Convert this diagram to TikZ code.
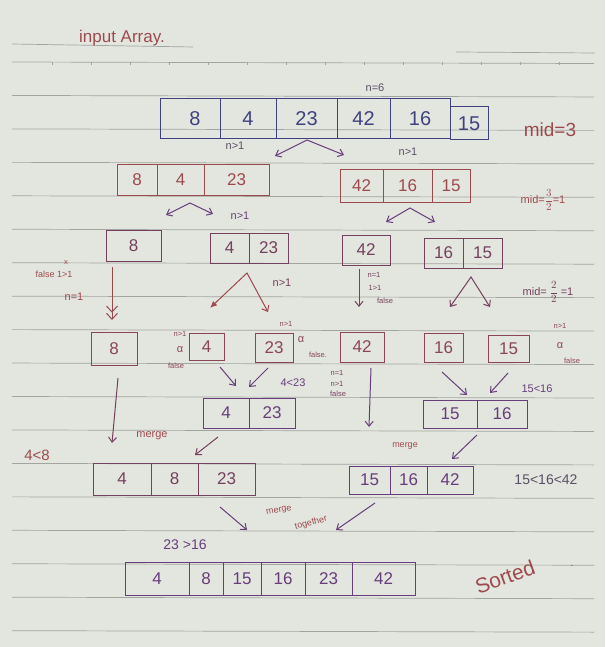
\documentclass[tikz,border=0pt]{standalone}
\usepackage{fontspec}
\setmainfont{Liberation Sans}
\usetikzlibrary{arrows.meta}

\definecolor{paper}{HTML}{E3E6DF}
\definecolor{rulegray}{HTML}{A2A49F}
\definecolor{inkblue}{HTML}{40427F}
\definecolor{inkred}{HTML}{9C4A4C}
\definecolor{inkbrown}{HTML}{8A4652}
\definecolor{inkplum}{HTML}{74405F}
\definecolor{inkpurple}{HTML}{673D7B}
\definecolor{inkgrey}{HTML}{5A4F66}

\begin{document}
\begin{tikzpicture}[x=1pt, y=-1pt,
    rule/.style={rulegray, line width=0.7pt},
    cell/.style={draw, line width=1pt, inner sep=0pt, font=\fontsize{17}{19}\selectfont},
    note/.style={inner sep=1pt, font=\fontsize{11}{13}\selectfont},
    tiny/.style={inner sep=0pt, font=\fontsize{7.5}{8}\selectfont},
    ink/.style={line width=1pt, -{Straight Barb[length=5pt,width=8pt]}},
    fork/.style={line width=1pt, {Straight Barb[length=5pt,width=8pt]}-{Straight Barb[length=5pt,width=8pt]}}]
    \useasboundingbox (0,0) rectangle (605,647);
    \fill[paper] (0,0) rectangle (605,647);

    % Ruled paper
    \foreach \k in {0,...,17}
      \draw[rule] (12,{62+33.45*\k}) -- (594,{63.5+33.45*\k});
    \foreach \x in {52,91,...,590}
      \draw[rule] (\x,62) -- (\x,65.5);
    \draw[rule] (12,44) -- (193,47);
    \draw[rule] (456,52) -- (595,53);

    \node[note, inkred, font=\fontsize{17}{19}\selectfont] (title) at (122,38) {input Array.};
    \node[note, inkgrey] (n6) at (375,88) {n=6};

    % Input array
    \node[cell, inkblue, minimum width=60pt, minimum height=40pt] (r1a) at (190,119) {\fontsize{20}{22}\selectfont\hspace{10pt}8};
    \node[cell, inkblue, minimum width=56pt, minimum height=40pt] (r1b) at (248,119) {\fontsize{20}{22}\selectfont 4};
    \node[cell, inkblue, minimum width=61pt, minimum height=40pt] (r1c) at (306.5,119) {\fontsize{20}{22}\selectfont 23};
    \node[cell, inkblue, minimum width=53pt, minimum height=40pt] (r1d) at (363.5,119) {\fontsize{20}{22}\selectfont 42};
    \node[cell, inkblue, minimum width=60pt, minimum height=40pt] (r1e) at (420,119) {\fontsize{20}{22}\selectfont 16};
    \node[cell, inkblue, minimum width=38pt, minimum height=33pt] (r1f) at (469,123.5) {\fontsize{20}{22}\selectfont 15};
    \node[note, inkred, font=\fontsize{19}{21}\selectfont] (mid1) at (550,130) {mid=3};
    \node[note, inkgrey] (g1) at (235,146) {n>1};
    \node[note, inkgrey] (g2) at (408,152) {n>1};
    \coordinate (s1l) at (275,156);
    \coordinate (s1t) at (307,140);
    \coordinate (s1r) at (344,155);
    \draw[fork, inkpurple] (s1l) -- (s1t) -- (s1r);

    % First split
    \node[cell, inkred, minimum width=40pt, minimum height=30pt] (r2a) at (137,180) {8};
    \node[cell, inkred, minimum width=47pt, minimum height=30pt] (r2b) at (180.5,180) {4};
    \node[cell, inkred, minimum width=65pt, minimum height=30pt] (r2c) at (236.5,180) {23};
    \node[cell, inkred, minimum width=43pt, minimum height=32pt] (r2d) at (361.5,186) {42};
    \node[cell, inkred, minimum width=49pt, minimum height=32pt] (r2e) at (407.5,186) {16};
    \node[cell, inkred, minimum width=38pt, minimum height=32pt] (r2f) at (451,186) {15};
    \node[note, inkred] (mid2) at (543,200) {mid=$\displaystyle\frac{3}{2}$=1};
    \coordinate (s2l) at (166,215);
    \coordinate (s2t) at (190,203);
    \coordinate (s2r) at (213,214);
    \draw[fork, inkpurple] (s2l) -- (s2t) -- (s2r);
    \node[note, inkpurple] (g3) at (240,216) {n>1};
    \coordinate (s3l) at (386,222);
    \coordinate (s3t) at (410,208);
    \coordinate (s3r) at (435,222);
    \draw[fork, inkpurple] (s3l) -- (s3t) -- (s3r);

    % Second split
    \node[cell, inkplum, minimum width=55pt, minimum height=31pt] (r3a) at (133.5,245.5) {8};
    \node[cell, inkplum, minimum width=39pt, minimum height=30pt] (r3b) at (229.5,248) {4};
    \node[cell, inkplum, minimum width=39pt, minimum height=30pt] (r3c) at (268.5,248) {23};
    \node[cell, inkplum, minimum width=48pt, minimum height=30pt] (r3d) at (366,250) {42};
    \node[cell, inkplum, minimum width=39pt, minimum height=30pt] (r3e) at (443.5,253) {16};
    \node[cell, inkplum, minimum width=39pt, minimum height=30pt] (r3f) at (482.5,253) {15};
    \node[note, inkred, font=\fontsize{9}{10}\selectfont] (f1) at (54,274) {false 1>1};
    \node[tiny, inkred] (x1) at (66,263) {x};
    \node[note, inkred] (e1) at (74,297) {n=1};
    \coordinate (d1a) at (112,267);
    \coordinate (d1b) at (112,320);
    \draw[inkred, line width=1pt, -{Straight Barb[length=6pt,width=11pt] Straight Barb[length=6pt,width=11pt]}] (d1a) -- (d1b);
    \coordinate (s4l) at (210,308);
    \coordinate (s4t) at (247,273);
    \coordinate (s4r) at (268,312);
    \draw[inkred, line width=1pt, {Latex[length=7pt,width=6pt]}-{Straight Barb[length=5pt,width=8pt]}] (s4l) -- (s4t) -- (s4r);
    \node[note, inkplum] (g4) at (282,283) {n>1};
    \coordinate (d2a) at (359,269);
    \coordinate (d2b) at (359,307);
    \draw[ink, inkplum] (d2a) -- (d2b);
    \node[tiny, inkplum] (h1) at (374,275) {n=1};
    \node[tiny, inkplum] (h2) at (375,288) {1>1};
    \node[tiny, inkplum] (h3) at (385,301) {false};
    \coordinate (s5l) at (450,307);
    \coordinate (s5t) at (471,277);
    \coordinate (s5r) at (490,307);
    \draw[fork, inkplum] (s5l) -- (s5t) -- (s5r);
    \node[note, inkplum] (mid3) at (548,292) {mid= $\displaystyle\frac{2}{2}$ =1};

    % Single elements
    \node[cell, inkbrown, minimum width=46pt, minimum height=33pt] (r4a) at (114,348.5) {8};
    \node[cell, inkbrown, minimum width=35pt, minimum height=27pt] (r4b) at (206.5,346.5) {4};
    \node[cell, inkbrown, minimum width=38pt, minimum height=29pt] (r4c) at (274,347.5) {23};
    \node[cell, inkbrown, minimum width=44pt, minimum height=30pt] (r4d) at (362,347) {42};
    \node[cell, inkbrown, minimum width=39pt, minimum height=29pt] (r4e) at (443.5,347.5) {16};
    \node[cell, inkbrown, minimum width=41pt, minimum height=27pt] (r4f) at (508.5,348.5) {15};
    \node[tiny, inkbrown] (k1) at (180,334) {n>1};
    \node[tiny, inkbrown, font=\fontsize{11}{12}\selectfont] (k2) at (180,350) {α};
    \node[tiny, inkbrown] (k3) at (176,366) {false};
    \node[tiny, inkbrown] (k4) at (286,324) {n>1};
    \node[tiny, inkbrown, font=\fontsize{11}{12}\selectfont] (k5) at (301,340) {α};
    \node[tiny, inkbrown] (k6) at (318,355) {false.};
    \node[tiny, inkbrown] (k7) at (560,326) {n>1};
    \node[tiny, inkbrown, font=\fontsize{11}{12}\selectfont] (k8) at (560,346) {α};
    \node[tiny, inkbrown] (k9) at (572,361) {false};

    % Merging pairs
    \coordinate (d3a) at (118,378);
    \coordinate (d3b) at (112,443);
    \draw[ink, inkplum] (d3a) -- (d3b);
    \node[note, inkred] (mg1) at (152,436) {merge};
    \coordinate (m1a) at (220,367);
    \coordinate (m1b) at (236,386);
    \coordinate (m2a) at (268,368);
    \coordinate (m2b) at (249,387);
    \draw[ink, inkpurple] (m1a) -- (m1b);
    \draw[ink, inkpurple] (m2a) -- (m2b);
    \node[note, inkpurple] (lt1) at (293,383) {4<23};
    \node[tiny, inkplum] (h4) at (337,373) {n=1};
    \node[tiny, inkplum] (h5) at (337,384) {n>1};
    \node[tiny, inkplum] (h6) at (338,394) {false};
    \coordinate (d4a) at (371,368);
    \coordinate (d4b) at (369,427);
    \draw[ink, inkpurple] (d4a) -- (d4b);
    \coordinate (m3a) at (442,372);
    \coordinate (m3b) at (467,395);
    \coordinate (m4a) at (508,373);
    \coordinate (m4b) at (490,393);
    \draw[ink, inkpurple] (m3a) -- (m3b);
    \draw[ink, inkpurple] (m4a) -- (m4b);
    \node[note, inkpurple] (lt2) at (537,389) {15<16};

    \node[cell, inkpurple, minimum width=46pt, minimum height=30pt] (r5a) at (226,413) {4};
    \node[cell, inkpurple, minimum width=46pt, minimum height=30pt] (r5b) at (272,413) {23};
    \node[cell, inkpurple, minimum width=54pt, minimum height=28pt] (r5c) at (450,414) {15};
    \node[cell, inkpurple, minimum width=50pt, minimum height=28pt] (r5d) at (502,414) {16};

    % Merging halves
    \coordinate (m5a) at (218,437);
    \coordinate (m5b) at (195,455);
    \draw[ink, inkplum] (m5a) -- (m5b);
    \coordinate (m6a) at (477,435);
    \coordinate (m6b) at (452,459);
    \draw[ink, inkpurple] (m6a) -- (m6b);
    \node[note, inkred, font=\fontsize{9}{10}\selectfont] (mg2) at (405,446) {merge};
    \node[note, inkred, font=\fontsize{15}{17}\selectfont] (lt3) at (37,455) {4<8};

    \node[cell, inkplum, minimum width=58pt, minimum height=32pt] (r6a) at (122,479) {4};
    \node[cell, inkplum, minimum width=47pt, minimum height=32pt] (r6b) at (174.5,479) {8};
    \node[cell, inkplum, minimum width=57pt, minimum height=32pt] (r6c) at (226.5,479) {23};
    \node[cell, inkpurple, minimum width=41pt, minimum height=28pt] (r6d) at (369.5,480) {15};
    \node[cell, inkpurple, minimum width=37pt, minimum height=28pt] (r6e) at (408.5,480) {16};
    \node[cell, inkpurple, minimum width=46pt, minimum height=28pt] (r6f) at (450,480) {42};
    \node[note, inkgrey, font=\fontsize{14}{16}\selectfont] (lt4) at (546,480) {15<16<42};

    % Final merge
    \coordinate (m7a) at (220,507);
    \coordinate (m7b) at (247,530);
    \coordinate (m8a) at (375,503);
    \coordinate (m8b) at (336,530);
    \draw[ink, inkpurple] (m7a) -- (m7b);
    \draw[ink, inkpurple] (m8a) -- (m8b);
    \node[note, inkred, font=\fontsize{9}{10}\selectfont, rotate=10] (mg3) at (279,511) {merge};
    \node[note, inkred, font=\fontsize{9}{10}\selectfont, rotate=15] (mg4) at (311,523) {together};
    \node[note, inkpurple, font=\fontsize{14}{16}\selectfont] (gt1) at (185,545) {23 >16};

    \node[cell, inkpurple, minimum width=64pt, minimum height=33pt] (r7a) at (157,578.5) {4};
    \node[cell, inkpurple, minimum width=34pt, minimum height=33pt] (r7b) at (206,578.5) {8};
    \node[cell, inkpurple, minimum width=38pt, minimum height=33pt] (r7c) at (242,578.5) {15};
    \node[cell, inkpurple, minimum width=44pt, minimum height=33pt] (r7d) at (283,578.5) {16};
    \node[cell, inkpurple, minimum width=47pt, minimum height=33pt] (r7e) at (328.5,578.5) {23};
    \node[cell, inkpurple, minimum width=63pt, minimum height=33pt] (r7f) at (383.5,578.5) {42};
    \node[note, inkred, font=\fontsize{21}{23}\selectfont, rotate=20] (done) at (505,577) {Sorted};
    \node[note, inkred] (dot) at (572,566) {.};
\end{tikzpicture}
\end{document}
